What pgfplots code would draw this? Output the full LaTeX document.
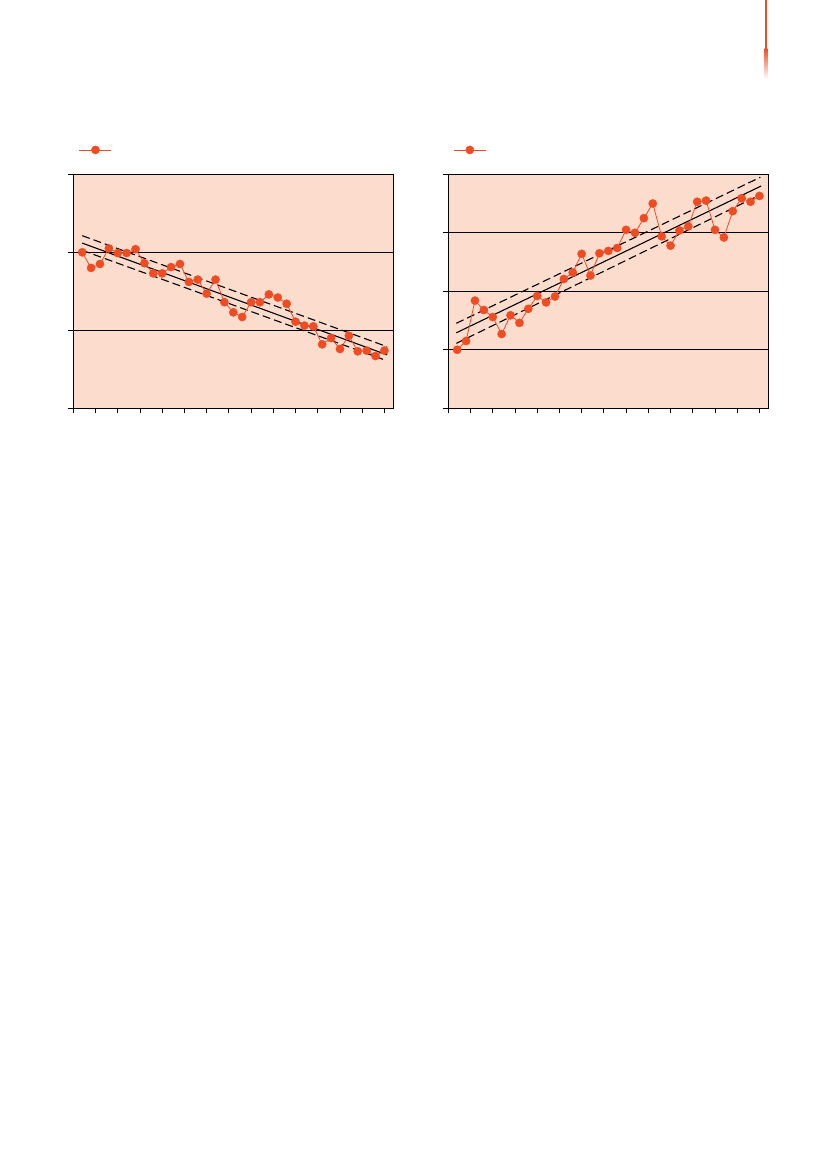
\documentclass[border=0pt]{standalone}
\usepackage{pgfplots}
\pgfplotsset{compat=1.18}
\definecolor{bgpeach}{RGB}{251,220,205}
\definecolor{dotred}{RGB}{240,76,36}

% series: index 0..34
\pgfplotstableread{
x y
0 2.00
1 1.80
2 1.85
3 2.05
4 1.99
5 1.99
6 2.04
7 1.86
8 1.73
9 1.73
10 1.81
11 1.85
12 1.62
13 1.65
14 1.47
15 1.65
16 1.36
17 1.23
18 1.17
19 1.36
20 1.36
21 1.46
22 1.42
23 1.34
24 1.11
25 1.06
26 1.05
27 0.82
28 0.90
29 0.76
30 0.93
31 0.73
32 0.74
33 0.67
34 0.74
}\leftdata

\pgfplotstableread{
x y
0 1.00
1 1.15
2 1.84
3 1.68
4 1.56
5 1.27
6 1.59
7 1.46
8 1.70
9 1.92
10 1.81
11 1.91
12 2.21
13 2.32
14 2.64
15 2.27
16 2.65
17 2.69
18 2.74
19 3.05
20 3.00
21 3.25
22 3.50
23 2.94
24 2.78
25 3.04
26 3.11
27 3.53
28 3.55
29 3.05
30 2.92
31 3.37
32 3.59
33 3.53
34 3.63
}\rightdata

\pgfplotsset{
  panel/.style={
    scale only axis,
    width=320pt,
    xmin=-1, xmax=35,
    xtick={-1,1.5,...,34},
    xticklabels={},
    yticklabels={},
    tick align=outside,
    tick pos=left,
    major tick length=5pt,
    tick style={black, line width=0.8pt},
    axis line style={black, line width=0.9pt},
    ymajorgrids,
    grid style={black, line width=0.9pt},
    axis background/.style={fill=bgpeach},
    legend style={draw=none, fill=none, inner sep=0pt, outer sep=0pt,
      anchor=west, nodes={inner sep=0pt}},
    legend image code/.code={
      \draw[mark repeat=2,mark phase=2] plot coordinates {(0pt,0pt)(16pt,0pt)(32pt,0pt)};},
  },
  series/.style={dotred, line width=0.8pt, mark=*, mark size=4.1pt,
    mark options={solid, fill=dotred, draw=dotred, line width=0.4pt}},
  fit/.style={black, line width=1.1pt},
  band/.style={black, line width=1.1pt, dash pattern=on 8pt off 4pt},
}

\begin{document}
\begin{tikzpicture}[x=1pt,y=1pt]
\path (0,0) rectangle (827,1169);
% page edge marker
\fill[dotred] (764.6,1169) rectangle (767.4,1120);
\shade[top color=dotred, bottom color=white] (764.6,1120.5) rectangle (767.4,1090);

\begin{axis}[panel,
  at={(73.3pt,760.7pt)}, anchor=south west,
  height=234pt,
  ymin=0, ymax=3, ytick={0,1,2,3},
  legend style={at={(0.018,1.104)}},
]
\addplot[band, forget plot] coordinates {(0,2.213) (34.3,0.79)};
\addplot[band, forget plot] coordinates {(0,2.025) (34.1,0.617)};
\addplot[fit, forget plot] coordinates {(0,2.118) (34.3,0.685)};
\addplot[series] table[x=x,y=y] {\leftdata};
\addlegendentry{}
\end{axis}

\begin{axis}[panel,
  at={(448.3pt,760.7pt)}, anchor=south west,
  height=234pt,
  ymin=0, ymax=4, ytick={0,1,2,3,4},
  legend style={at={(0.016,1.104)}},
]
\addplot[band, forget plot] coordinates {(-0.1,1.453) (34.1,3.949)};
\addplot[band, forget plot] coordinates {(-0.1,1.11) (34.1,3.65)};
\addplot[fit, forget plot] coordinates {(-0.1,1.29) (34.2,3.80)};
\addplot[series] table[x=x,y=y] {\rightdata};
\addlegendentry{}
\end{axis}
\end{tikzpicture}
\end{document}
